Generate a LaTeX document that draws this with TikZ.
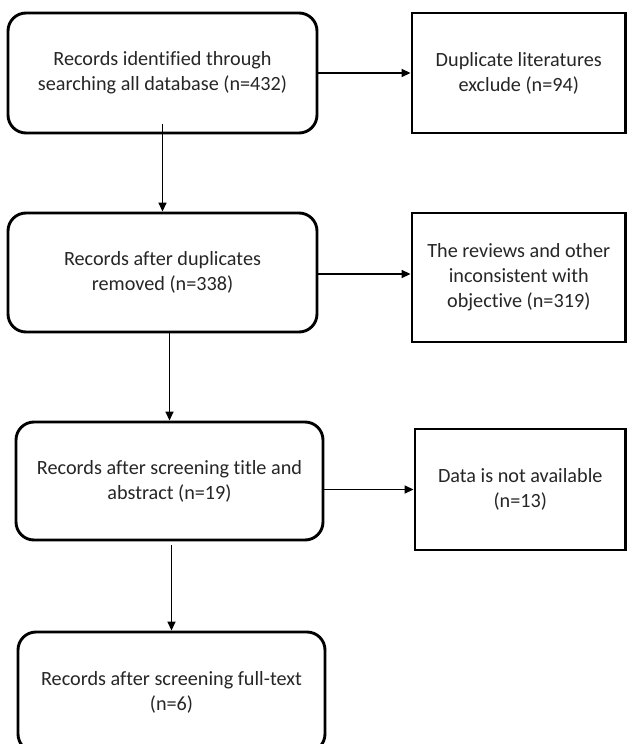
\documentclass[tikz,border=0pt]{standalone}
\usepackage{fontspec}
\setmainfont[Ligatures={NoCommon}]{Carlito}
\usetikzlibrary{arrows.meta}
\definecolor{ink}{HTML}{262626}
\tikzset{
  x=1pt, y=-1pt,
  basebox/.style={draw=black, line width=2.9pt, text=ink, align=center,
    inner sep=0pt, font=\fontsize{20.2}{25}\selectfont},
  roundbox/.style={basebox, rectangle, rounded corners=18pt},
  squarebox/.style={basebox, rectangle},
  arr/.style={draw=black, line width=1.5pt,
    -{Triangle[length=9pt,width=8pt]}}
}
\begin{document}
\begin{tikzpicture}
\useasboundingbox (0,0) rectangle (627,744);
\fill[white] (0,0) rectangle (627,744);
\begin{scope}
\clip (0,0) rectangle (627,744);
% main column
\node[roundbox, minimum width=309pt, minimum height=120pt] (b1) at (162.5,73)
  {Records identified through\\searching all database (n=432)};
\node[roundbox, minimum width=309pt, minimum height=119pt] (b2) at (162.5,272.5)
  {Records after duplicates\\removed (n=338)};
\node[roundbox, minimum width=307pt, minimum height=118pt] (b3) at (169.5,481)
  {Records after screening title and\\abstract (n=19)};
\node[roundbox, minimum width=307pt, minimum height=120pt] (b4) at (171.5,692)
  {Records after screening full-text\\(n=6)};
% exclusion column
\node[squarebox, minimum width=213.5pt, minimum height=120pt] (r1) at (518.75,73)
  {Duplicate literatures\\exclude (n=94)};
\node[squarebox, minimum width=213.5pt, minimum height=129pt] (r2) at (518.75,277.5)
  {The reviews and other\\inconsistent with\\objective (n=319)};
\node[squarebox, minimum width=210.5pt, minimum height=121pt] (r3) at (520.25,489.5)
  {Data is not available\\(n=13)};
\end{scope}
% connectors
\coordinate (s1) at ([yshift=10pt]b1.south);
\coordinate (s2) at ([yshift=-1.5pt]b2.east);
\coordinate (s3) at ([yshift=-4pt]b4.north |- b3.south);
\draw[arr] (s1) -- (b2.north);
\draw[arr] (b3.north |- b2.south) -- (b3.north);
\draw[arr] (s3) -- (b4.north);
\draw[arr] (b1.east) -- (r1.west);
\draw[arr] (s2) -- (r2.west |- s2);
\draw[arr] (b3.east |- r3.west) -- (r3.west);
\end{tikzpicture}
\end{document}
